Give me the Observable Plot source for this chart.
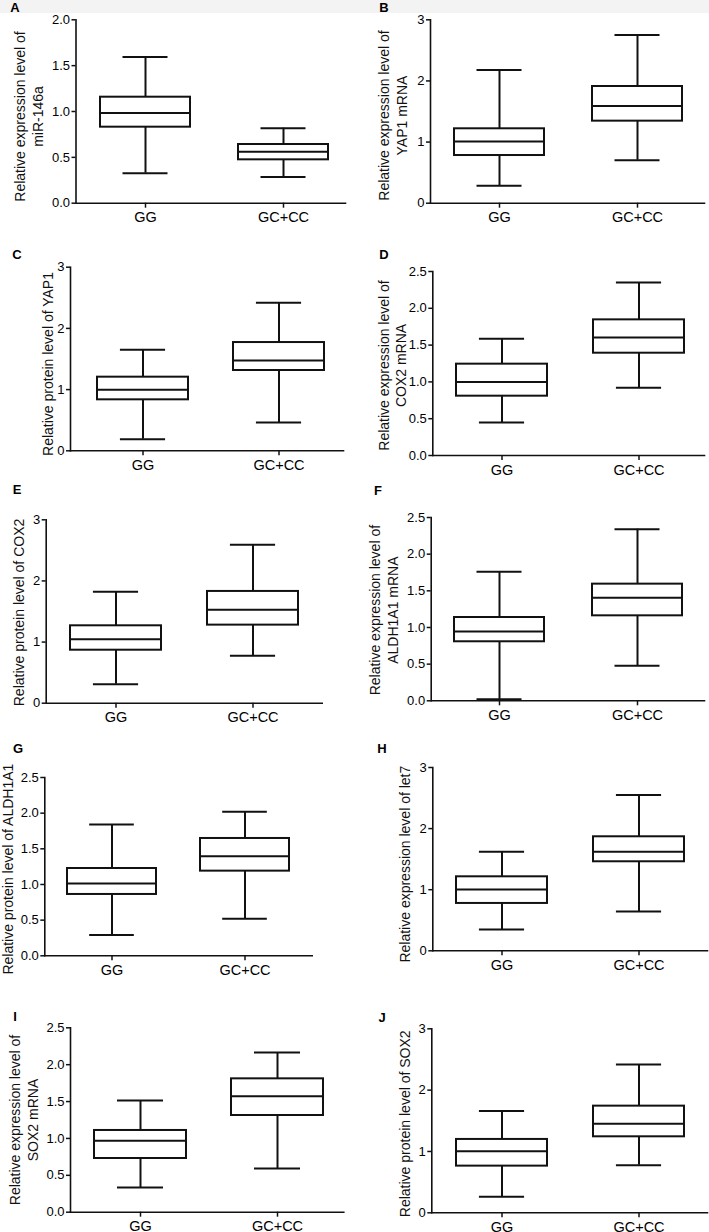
<!DOCTYPE html>
<html><head><meta charset="utf-8">
<script src="https://cdn.jsdelivr.net/npm/d3@7"></script>
<script src="https://cdn.jsdelivr.net/npm/@observablehq/plot@0.6"></script>
<style>
body{margin:0;background:#fff;}
#fig{position:relative;width:709px;height:1232px;overflow:hidden;font-family:"Liberation Sans",Arial,Helvetica,sans-serif;}
.band{position:absolute;left:0;top:0;width:709px;height:13px;background:#f3f3f3;}
.panel{position:absolute;}
.letter{position:absolute;font-weight:bold;font-size:13px;line-height:1;transform:translate(-50%,-50%);}
</style></head><body><div id="fig"><div class="band"></div></div>
<script>
// ---------- data ----------
const groups = ["GG", "GC+CC"];
const panelLetters = ["A","B","C","D","E","F","G","H","I","J"];
const yTitles = [
  "Relative expression level of\nmiR-146a",
  "Relative expression level of\nYAP1 mRNA",
  "Relative protein level of YAP1",
  "Relative expression level of\nCOX2 mRNA",
  "Relative protein level of COX2",
  "Relative expression level of\nALDH1A1 mRNA",
  "Relative protein level of ALDH1A1",
  "Relative expression level of let7",
  "Relative expression level of\nSOX2 mRNA",
  "Relative protein level of SOX2"
];
const ticks20 = [0, 0.5, 1.0, 1.5, 2.0];
const ticks25 = [0, 0.5, 1.0, 1.5, 2.0, 2.5];
const ticks3 = [0, 1, 2, 3];
const panelTicks = [ticks20, ticks3, ticks3, ticks25, ticks3, ticks25, ticks25, ticks3, ticks25, ticks3];
// [min, q1, median, q3, max]
const ggStats = [
  [0.327, 0.829, 0.985, 1.156, 1.593],
  [0.284, 0.780, 1.009, 1.217, 2.180],
  [0.190, 0.833, 0.996, 1.203, 1.650],
  [0.448, 0.806, 1.000, 1.241, 1.585],
  [0.311, 0.867, 1.047, 1.266, 1.822],
  [0.020, 0.805, 0.945, 1.136, 1.759],
  [0.290, 0.860, 1.014, 1.224, 1.841],
  [0.349, 0.775, 1.004, 1.211, 1.620],
  [0.335, 0.728, 0.967, 1.108, 1.514],
  [0.261, 0.761, 1.005, 1.196, 1.658]
];
const gcStats = [
  [0.287, 0.473, 0.560, 0.640, 0.818],
  [0.704, 1.342, 1.588, 1.909, 2.750],
  [0.463, 1.312, 1.475, 1.769, 2.420],
  [0.919, 1.390, 1.603, 1.843, 2.350],
  [0.775, 1.277, 1.528, 1.828, 2.590],
  [0.477, 1.159, 1.405, 1.591, 2.340],
  [0.519, 1.187, 1.397, 1.645, 2.019],
  [0.644, 1.457, 1.620, 1.866, 2.548],
  [0.592, 1.311, 1.573, 1.808, 2.165],
  [0.777, 1.239, 1.451, 1.739, 2.418]
];

// ---------- layout (pixels, panel-relative) ----------
const layout = [
  {left:0,   top:0,   w:354, h:246, ax:75.5, yTop:19.3, y0:202.7, xEnd:345,   cA:144.3, cB:282.7, bw:90,   tdx:-47.5, tdy:5, lx:15,  ly:7},
  {left:354, top:0,   w:355, h:246, ax:76,   yTop:19.3, y0:202.7, xEnd:350,   cA:144.3, cB:282.7, bw:90,   tdx:-38.5, tdy:4, lx:384, ly:7},
  {left:0,   top:246, w:354, h:246, ax:70,   yTop:20.7, y0:204.3, xEnd:343,   cA:142.7, cB:279.3, bw:91.7, tdx:-23,   tdy:5, lx:17,  ly:254},
  {left:354, top:246, w:355, h:246, ax:78.3, yTop:25,   y0:209,   xEnd:350,   cA:147.7, cB:285,   bw:91.7, tdx:-41,   tdy:2, lx:384, ly:254},
  {left:0,   top:492, w:354, h:246, ax:45.7, yTop:27.3, y0:210.7, xEnd:321.7, cA:115,   cB:252.7, bw:91.7, tdx:-27.7, tdy:1, lx:17,  ly:489},
  {left:354, top:492, w:355, h:246, ax:76.7, yTop:25,   y0:208.3, xEnd:350,   cA:144.3, cB:282.7, bw:90,   tdx:-47.7, tdy:1, lx:378, ly:490},
  {left:0,   top:738, w:354, h:246, ax:44.3, yTop:39,   y0:217.3, xEnd:311.7, cA:111,   cB:244.3, bw:88.7, tdx:-37.3, tdy:2.5, lx:18, ly:748},
  {left:354, top:738, w:355, h:246, ax:78.3, yTop:29,   y0:212.3, xEnd:353,   cA:147.7, cB:285,   bw:91.7, tdx:-28.3, tdy:5, lx:382, ly:748},
  {left:0,   top:984, w:354, h:248, ax:70,   yTop:43.3, y0:227.7, xEnd:343.3, cA:139.3, cB:276.7, bw:92,   tdx:-47.5, tdy:0, lx:15,  ly:1016},
  {left:354, top:984, w:355, h:248, ax:77.3, yTop:44.3, y0:228.3, xEnd:353,   cA:147.7, cB:285,   bw:91.7, tdx:-27.3, tdy:3, lx:382, ly:1017}
];

const fig = document.getElementById("fig");
const FONT = '"Liberation Sans", Arial, Helvetica, sans-serif';

panelLetters.forEach((letter, i) => {
  const L = layout[i];
  const ticks = panelTicks[i];
  const rows = [ggStats[i], gcStats[i]].map((s, j) => ({
    group: groups[j], min: s[0], q1: s[1], median: s[2], q3: s[3], max: s[4]
  }));
  const step = L.cB - L.cA;
  const capInset = L.bw / 4;
  const fmt = ticks.some(t => !Number.isInteger(t)) ? d3.format(".1f") : d3.format("d");
  const chart = Plot.plot({
    width: L.w,
    height: L.h,
    marginLeft: L.ax,
    marginRight: L.w - L.xEnd,
    marginTop: L.yTop,
    marginBottom: L.h - L.y0,
    style: {fontFamily: FONT, fontSize: "14px", background: "transparent", color: "#000", overflow: "visible"},
    x: {type: "band", domain: groups, range: [L.cA - L.bw / 2, L.cB + L.bw / 2], paddingInner: 1 - L.bw / step, paddingOuter: 0, align: 0.5},
    y: {domain: [0, ticks[ticks.length - 1]], nice: false},
    marks: [
      Plot.ruleX(rows, {x: "group", y1: "min", y2: "max", stroke: "#111", strokeWidth: 2}),
      Plot.tickY(rows, {x: "group", y: "max", stroke: "#111", strokeWidth: 2, insetLeft: capInset, insetRight: capInset}),
      Plot.tickY(rows, {x: "group", y: "min", stroke: "#111", strokeWidth: 2, insetLeft: capInset, insetRight: capInset}),
      Plot.barY(rows, {x: "group", y1: "q1", y2: "q3", fill: "white", stroke: "#111", strokeWidth: 2}),
      Plot.tickY(rows, {x: "group", y: "median", stroke: "#111", strokeWidth: 2}),
      Plot.frame({anchor: "left", stroke: "#111", strokeWidth: 1.6}),
      Plot.frame({anchor: "bottom", stroke: "#111", strokeWidth: 1.6}),
      Plot.axisY({ticks, tickFormat: fmt, tickSize: 4, tickPadding: 2, stroke: "#111", strokeWidth: 1.5, fontSize: 13, label: null}),
      Plot.axisX({tickSize: 5, tickPadding: 4, stroke: "#111", strokeWidth: 1.5, fontSize: 14.5, label: null}),
      Plot.text([yTitles[i]], {frameAnchor: "left", textAnchor: "middle", lineAnchor: "middle", rotate: -90, dx: L.tdx, dy: L.tdy, fontSize: 14, lineHeight: 1.27, fill: "#111"})
    ]
  });
  const div = document.createElement("div");
  div.className = "panel";
  div.style.left = L.left + "px";
  div.style.top = L.top + "px";
  div.style.width = L.w + "px";
  div.style.height = L.h + "px";
  div.appendChild(chart);
  fig.appendChild(div);

  const lab = document.createElement("div");
  lab.className = "letter";
  lab.textContent = letter;
  lab.style.left = L.lx + "px";
  lab.style.top = L.ly + "px";
  fig.appendChild(lab);
});
</script>
</body></html>
